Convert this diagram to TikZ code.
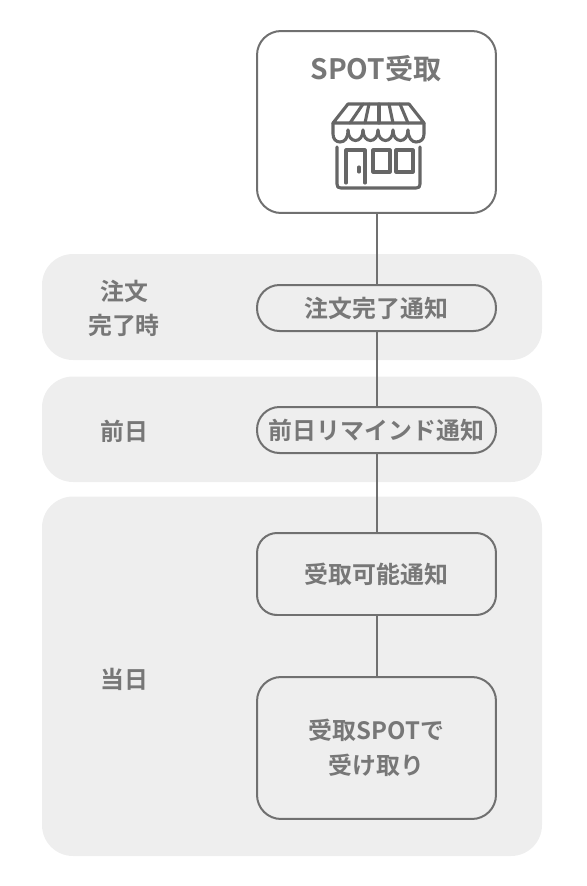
\documentclass[tikz,border=0pt]{standalone}
\usepackage{fontspec}
\setmainfont{Noto Sans CJK JP}[BoldFont=* Bold]
\usepackage{tikz}
\usetikzlibrary{calc}
\definecolor{panelgray}{HTML}{EEEEEE}
\definecolor{linegray}{HTML}{707070}
\definecolor{icongray}{HTML}{666666}
\definecolor{textgray}{HTML}{777777}

\begin{document}
\begin{tikzpicture}[x=0.02cm, y=-0.02cm, every node/.style={font=\fontsize{13.6pt}{19.8pt}\selectfont\bfseries, text=textgray, align=center, inner sep=0pt},
	panel/.style={fill=panelgray, rounded corners=0.62cm},
	notebox/.style={draw=linegray, line width=0.04cm, minimum width=4.78cm, minimum height=#1},
	pill/.style={notebox=0.92cm, rounded corners=0.45cm},
	iconline/.style={draw=icongray, line width=0.062cm, line join=round, line cap=round}]
	\useasboundingbox (0,0) rectangle (586,886);
	\fill[panel] (42,254) rectangle (542,360);
	\fill[panel] (42,376.5) rectangle (542,482);
	\fill[panel] (42,496.5) rectangle (542,856);
	\node[notebox=3.64cm, rounded corners=0.48cm] (shop) at (376.5,122) {};
	\node[font=\fontsize{16pt}{20pt}\selectfont\bfseries] (shoptitle) at (376,68.5) {SPOT受取};
	\node[pill] (ordered) at (376.5,308) {注文完了通知};
	\node[pill] (reminder) at (376.5,430) {前日リマインド通知};
	\node[notebox=1.64cm, rounded corners=0.4cm] (ready) at (376.5,574) {受取可能通知};
	\node[notebox=2.84cm, rounded corners=0.48cm] (pickup) at (376.5,748) {受取SPOTで\\受け取り};
	\node (labelorder) at (124,308.5) {注文\\完了時};
	\node (labelprev) at (124,431.5) {前日};
	\node (labelday) at (124,679.5) {当日};
	\draw[draw=linegray, line width=0.04cm] (shop) -- (ordered);
	\draw[draw=linegray, line width=0.04cm] (ordered) -- (reminder);
	\draw[draw=linegray, line width=0.04cm] (reminder) -- (ready);
	\draw[draw=linegray, line width=0.04cm] (ready) -- (pickup);
	% shop icon
	\draw[iconline] (348,104) -- (409,104) -- (424,123) -- (333,123) -- cycle;
	\foreach \a/\b in {363/350,369/365,379/379,389/393,400/408} {\draw[iconline] (\a,104) -- (\b,123);}
	\draw[iconline] (333,123) -- (333,134) .. controls (333,139) and (336,142) .. (340,142) .. controls (345,142) and (348,138) .. (348,130);
	\foreach \s in {348,363,378,393} {\draw[iconline] (\s,130) .. controls (\s,144) and (\s+15,144) .. (\s+15,130);}
	\draw[iconline] (408,130) .. controls (408,138) and (412,142) .. (416,142) .. controls (421,142) and (424,139) .. (424,134) -- (424,123);
	\draw[iconline] (337,147) -- (337,184) .. controls (337,187) and (338,188) .. (341,188) -- (416,188) .. controls (419,188) and (420,187) .. (420,184) -- (420,147);
	\draw[iconline] (346,183) -- (346,150) -- (365,150) -- (365,183);
	\draw[iconline] (359,167) -- (359,172);
	\draw[iconline] (373,150) rectangle (390,172);
	\draw[iconline] (396,150) rectangle (413,172);
\end{tikzpicture}
\end{document}
